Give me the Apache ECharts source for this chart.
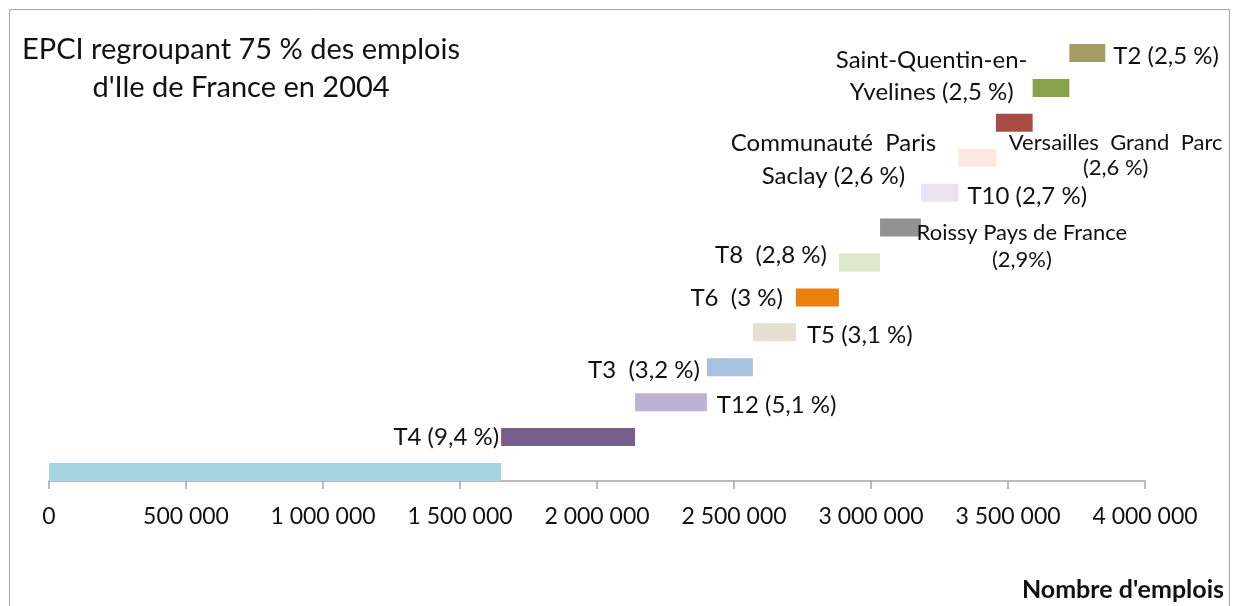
<!DOCTYPE html>
<html>
<head>
<meta charset="utf-8">
<script src="https://cdn.jsdelivr.net/npm/echarts@6/dist/echarts.min.js"></script>
<style>
html, body { margin: 0; padding: 0; background: #fff; }
#main { width: 1233px; height: 606px; }
</style>
</head>
<body>
<div id="main"></div>
<script>
// EPCI, du bas vers le haut (le premier bloc est la base sans étiquette)
var categories = ['Paris', 'T4', 'T12', 'T3', 'T5', 'T6', 'T8', 'Roissy Pays de France', 'T10',
    'Communauté Paris Saclay', 'Versailles Grand Parc', 'Saint-Quentin-en-Yvelines', 'T2'];
var emplois = [1650000, 489000, 262000, 168000, 157000, 157000, 150000, 149000, 137000, 137000, 134000, 134000, 131000];
var etiquettes = ['', 'T4 (9,4 %)', 'T12 (5,1 %)', 'T3  (3,2 %)', 'T5 (3,1 %)', 'T6  (3 %)', 'T8  (2,8 %)',
    'Roissy Pays de France\n(2,9%)', 'T10 (2,7 %)', 'Communauté  Paris\nSaclay (2,6 %)',
    'Versailles  Grand  Parc\n(2,6 %)', 'Saint-Quentin-en-\nYvelines (2,5 %)', 'T2 (2,5 %)'];
var couleurs = ['#a3d5e2', '#775e8d', '#c0b1d4', '#a7c1de', '#e5dfd0', '#ed7f0b', '#dde7c9', '#929292',
    '#e9e4f0', '#fdeade', '#a84b45', '#88a14b', '#a59b65'];
var xMin = 0, xMax = 4000000, xPas = 500000;

// placement des étiquettes (style uniquement)
var placement = {
    'T4': { position: 'left', distance: 2, offset: [0, 0] },
    'T12': { position: 'right', distance: 10, offset: [0, 3] },
    'T3': { position: 'left', distance: 7, offset: [0, 3] },
    'T5': { position: 'right', distance: 11, offset: [0, 3] },
    'T6': { position: 'left', distance: 13, offset: [0, 1] },
    'T8': { position: 'left', distance: 12, offset: [0, -7] },
    'Roissy Pays de France': { position: 'right', distance: 101, align: 'center', offset: [0, 19], fontSize: 22, lineHeight: 27 },
    'T10': { position: 'right', distance: 9, offset: [0, 4] },
    'Communauté Paris Saclay': { position: 'left', distance: 125, align: 'center', offset: [0, 2], lineHeight: 33 },
    'Versailles Grand Parc': { position: 'right', distance: 83, align: 'center', offset: [0, 33], fontSize: 22, lineHeight: 25 },
    'Saint-Quentin-en-Yvelines': { position: 'left', distance: 101, align: 'center', offset: [0, -12], lineHeight: 32 },
    'T2': { position: 'right', distance: 8, offset: [0, 3] }
};

var police = 'Lato, "Open Sans", sans-serif';

function formatNombre(v) {
    return String(v).replace(/\B(?=(\d{3})+(?!\d))/g, ' ');
}

// base invisible = cumul des blocs précédents
var bases = [];
var cumul = 0;
for (var i = 0; i < emplois.length; i++) {
    bases.push(cumul);
    cumul += emplois[i];
}

var barres = emplois.map(function(v, i) {
    var p = placement[categories[i]];
    var item = { value: v, itemStyle: { color: couleurs[i] } };
    if (p) {
        item.label = {
            show: true,
            formatter: etiquettes[i],
            position: p.position,
            distance: p.distance,
            offset: p.offset,
            color: '#111',
            fontFamily: police,
            fontSize: p.fontSize || 24,
            lineHeight: p.lineHeight || 28
        };
        if (p.align) item.label.align = p.align;
    }
    return item;
});

var myChart = echarts.init(document.getElementById('main'));
var option = {
    animation: false,
    backgroundColor: '#fff',
    title: [{
        text: "EPCI regroupant 75 % des emplois\nd'Ile de France en 2004",
        left: 236,
        top: 26,
        textAlign: 'center',
        textStyle: { fontFamily: police, fontSize: 29, fontWeight: 'normal', color: '#111', lineHeight: 38 }
    }, {
        text: "Nombre d'emplois",
        right: 4,
        top: 572,
        textStyle: { fontFamily: police, fontSize: 25, fontWeight: 'bold', color: '#111' }
    }],
    graphic: [{
        type: 'rect',
        shape: { x: 9.5, y: 9.5, width: 1220, height: 700 },
        style: { fill: 'none', stroke: '#a6a6a6', lineWidth: 1 },
        silent: true
    }],
    grid: {
        left: 49,
        right: 88,
        top: 35.5,
        bottom: 116.5,
        containLabel: false
    },
    xAxis: {
        type: 'value',
        min: xMin,
        max: xMax,
        interval: xPas,
        offset: -8.5,
        splitLine: { show: false },
        axisLine: { show: true, lineStyle: { color: '#a6a6a6', width: 1.5 } },
        axisTick: { show: true, length: 8, lineStyle: { color: '#a6a6a6', width: 1.5 } },
        axisLabel: {
            margin: 24,
            color: '#111',
            fontFamily: police,
            fontSize: 23,
            formatter: formatNombre
        }
    },
    yAxis: {
        type: 'category',
        data: categories,
        show: false
    },
    series: [{
        type: 'bar',
        stack: 'total',
        barWidth: 18,
        silent: true,
        itemStyle: { color: 'transparent' },
        data: bases
    }, {
        type: 'bar',
        stack: 'total',
        barWidth: 18,
        data: barres
    }]
};
myChart.setOption(option);
</script>
</body>
</html>
